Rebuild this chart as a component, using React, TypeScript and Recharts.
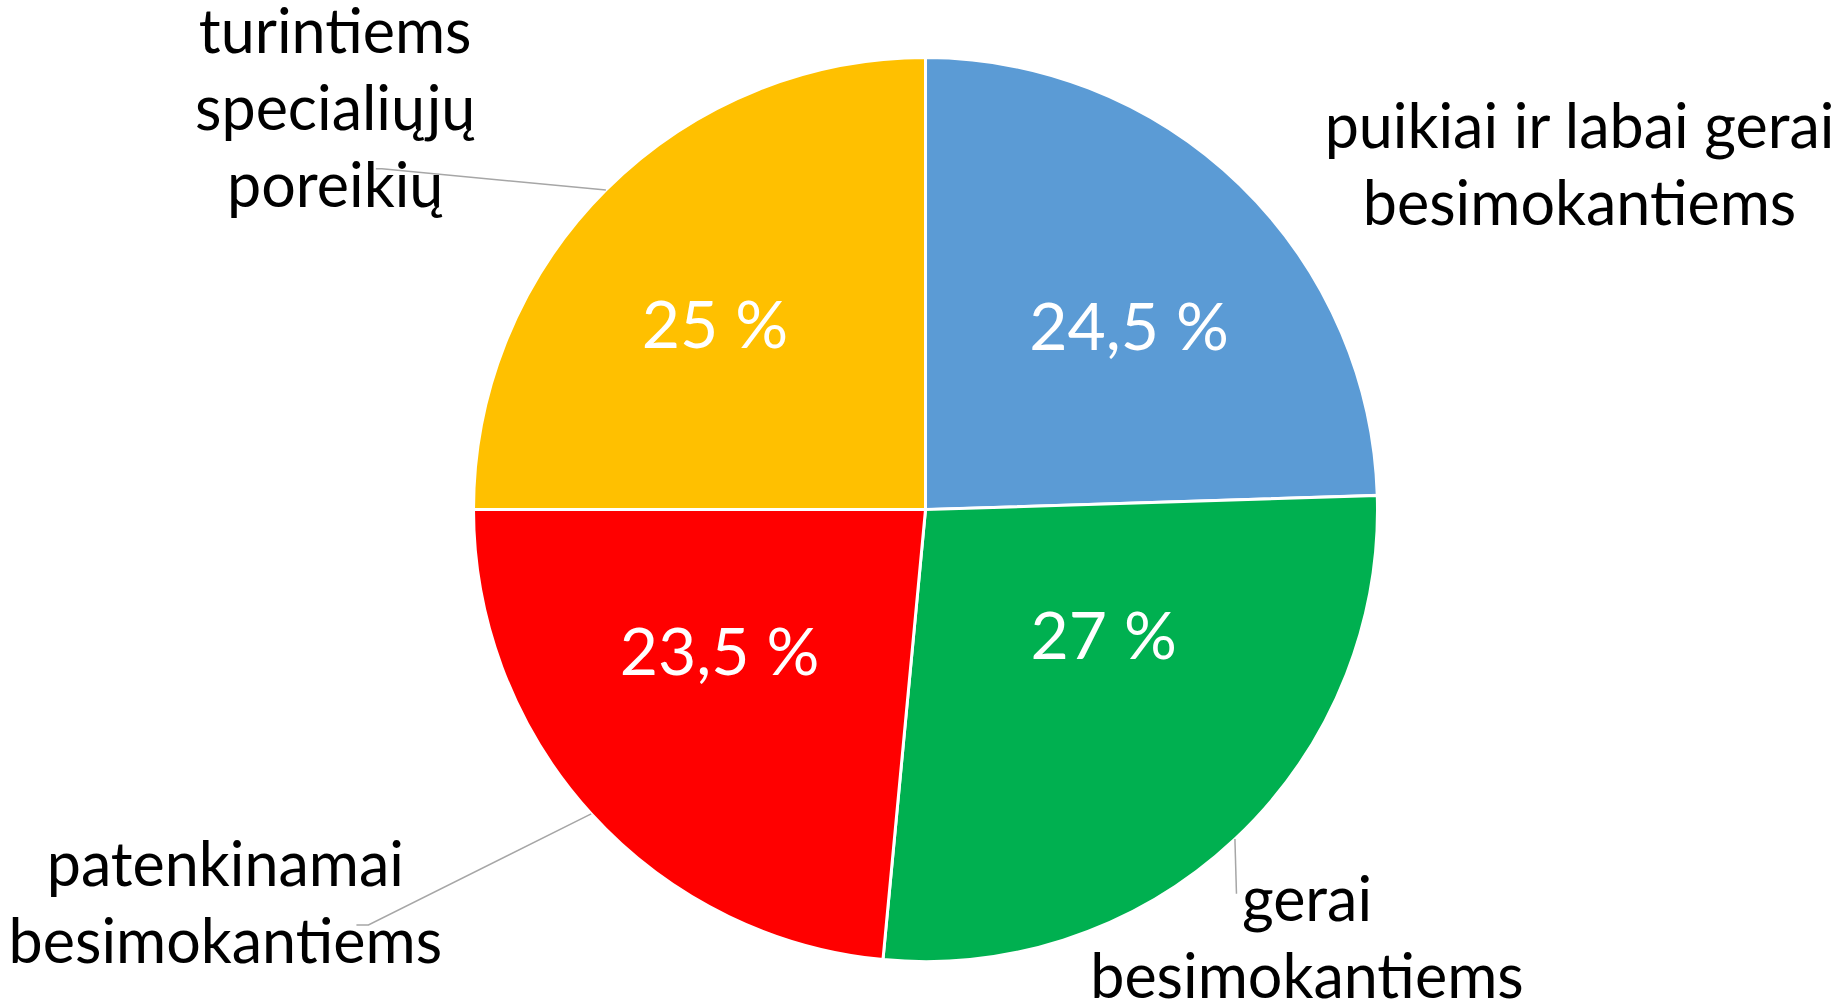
import { PieChart, Pie, Cell } from 'recharts'

// ─── Data ────────────────────────────────────────────────────────────────────

const CATEGORIES = [
  'puikiai ir labai gerai\nbesimokantiems',
  'gerai\nbesimokantiems',
  'patenkinamai\nbesimokantiems',
  'turintiems\nspecialiųjų\nporeikių',
]

const SHARES = [24.5, 27, 23.5, 25]

// ─── Styles / layout ─────────────────────────────────────────────────────────

const COLORS = ['#5B9BD5', '#00B050', '#FF0000', '#FFC000']
const FONT = 'Lato, "Open Sans", sans-serif'
const INNER_FONT_SIZE = 66
const OUTER_FONT_SIZE = 61
const LINE_HEIGHT = 77

// inner value labels: [angle offset from mid-angle (deg), radius fraction]
const INNER_POS: [number, number][] = [
  [-3.9, 0.606],
  [11.7, 0.482],
  [-7.8, 0.553],
  [3.7, 0.62],
]

// outer category labels, in units of the outer radius from the pie centre
// [x of text centre, first baseline]
const OUTER_POS: [number, number][] = [
  [1.447, -0.801],
  [0.844, 0.91],
  [-1.549, 0.832],
  [-1.306, -1.0095],
]

// leader line ends (null = no leader), same units
const LEADER_END: ([number, number, number] | null)[] = [
  null,
  [0.688, 0.85, 0],
  [-1.259, 0.919, 12],
  [-1.216, -0.754, 6],
]

const RADIAN = Math.PI / 180

const chartData = CATEGORIES.map((name, i) => ({ name, value: SHARES[i] }))

function polar(cx: number, cy: number, r: number, angle: number) {
  return { x: cx + r * Math.cos(-angle * RADIAN), y: cy + r * Math.sin(-angle * RADIAN) }
}

function SliceLabel(props: any) {
  const { cx, cy, midAngle, outerRadius, index, value, name } = props
  const [da, rf] = INNER_POS[index]
  const inner = polar(cx, cy, outerRadius * rf, midAngle + da)
  const [ox, oy] = OUTER_POS[index]
  const lines = String(name).split('\n')
  const leader = LEADER_END[index]
  let leaderPts = ''
  if (leader) {
    const start = polar(cx, cy, outerRadius, midAngle)
    const ex = cx + leader[0] * outerRadius
    const ey = cy + leader[1] * outerRadius
    leaderPts = `${start.x},${start.y} ${ex + leader[2]},${ey} ${ex},${ey}`
  }
  return (
    <g>
      <text
        x={inner.x}
        y={inner.y + INNER_FONT_SIZE * 0.36}
        textAnchor="middle"
        fill="#ffffff"
        fontSize={INNER_FONT_SIZE}
        fontFamily={FONT}
      >
        {String(value).replace('.', ',')} %
      </text>
      {leader && <polyline points={leaderPts} fill="none" stroke="#a6a6a6" strokeWidth={1.5} />}
      <text
        x={cx + ox * outerRadius}
        y={cy + oy * outerRadius}
        textAnchor="middle"
        fill="#000000"
        fontSize={OUTER_FONT_SIZE}
        fontFamily={FONT}
      >
        {lines.map((line, i) => (
          <tspan key={i} x={cx + ox * outerRadius} dy={i === 0 ? 0 : LINE_HEIGHT}>
            {line}
          </tspan>
        ))}
      </text>
    </g>
  )
}

export default function App() {
  return (
    <div style={{ position: 'absolute', left: 0, top: 0, width: 1837, height: 1004, background: '#ffffff' }}>
      <PieChart width={1837} height={1004} margin={{ top: 0, right: 0, bottom: 0, left: 0 }}>
        <Pie
          data={chartData}
          dataKey="value"
          nameKey="name"
          cx={925.5}
          cy={509.6}
          innerRadius={0}
          outerRadius={452}
          startAngle={90}
          endAngle={-270}
          stroke="#ffffff"
          strokeWidth={3}
          label={SliceLabel}
          labelLine={false}
          isAnimationActive={false}
        >
          {chartData.map((_, i) => (
            <Cell key={i} fill={COLORS[i]} />
          ))}
        </Pie>
      </PieChart>
    </div>
  )
}
